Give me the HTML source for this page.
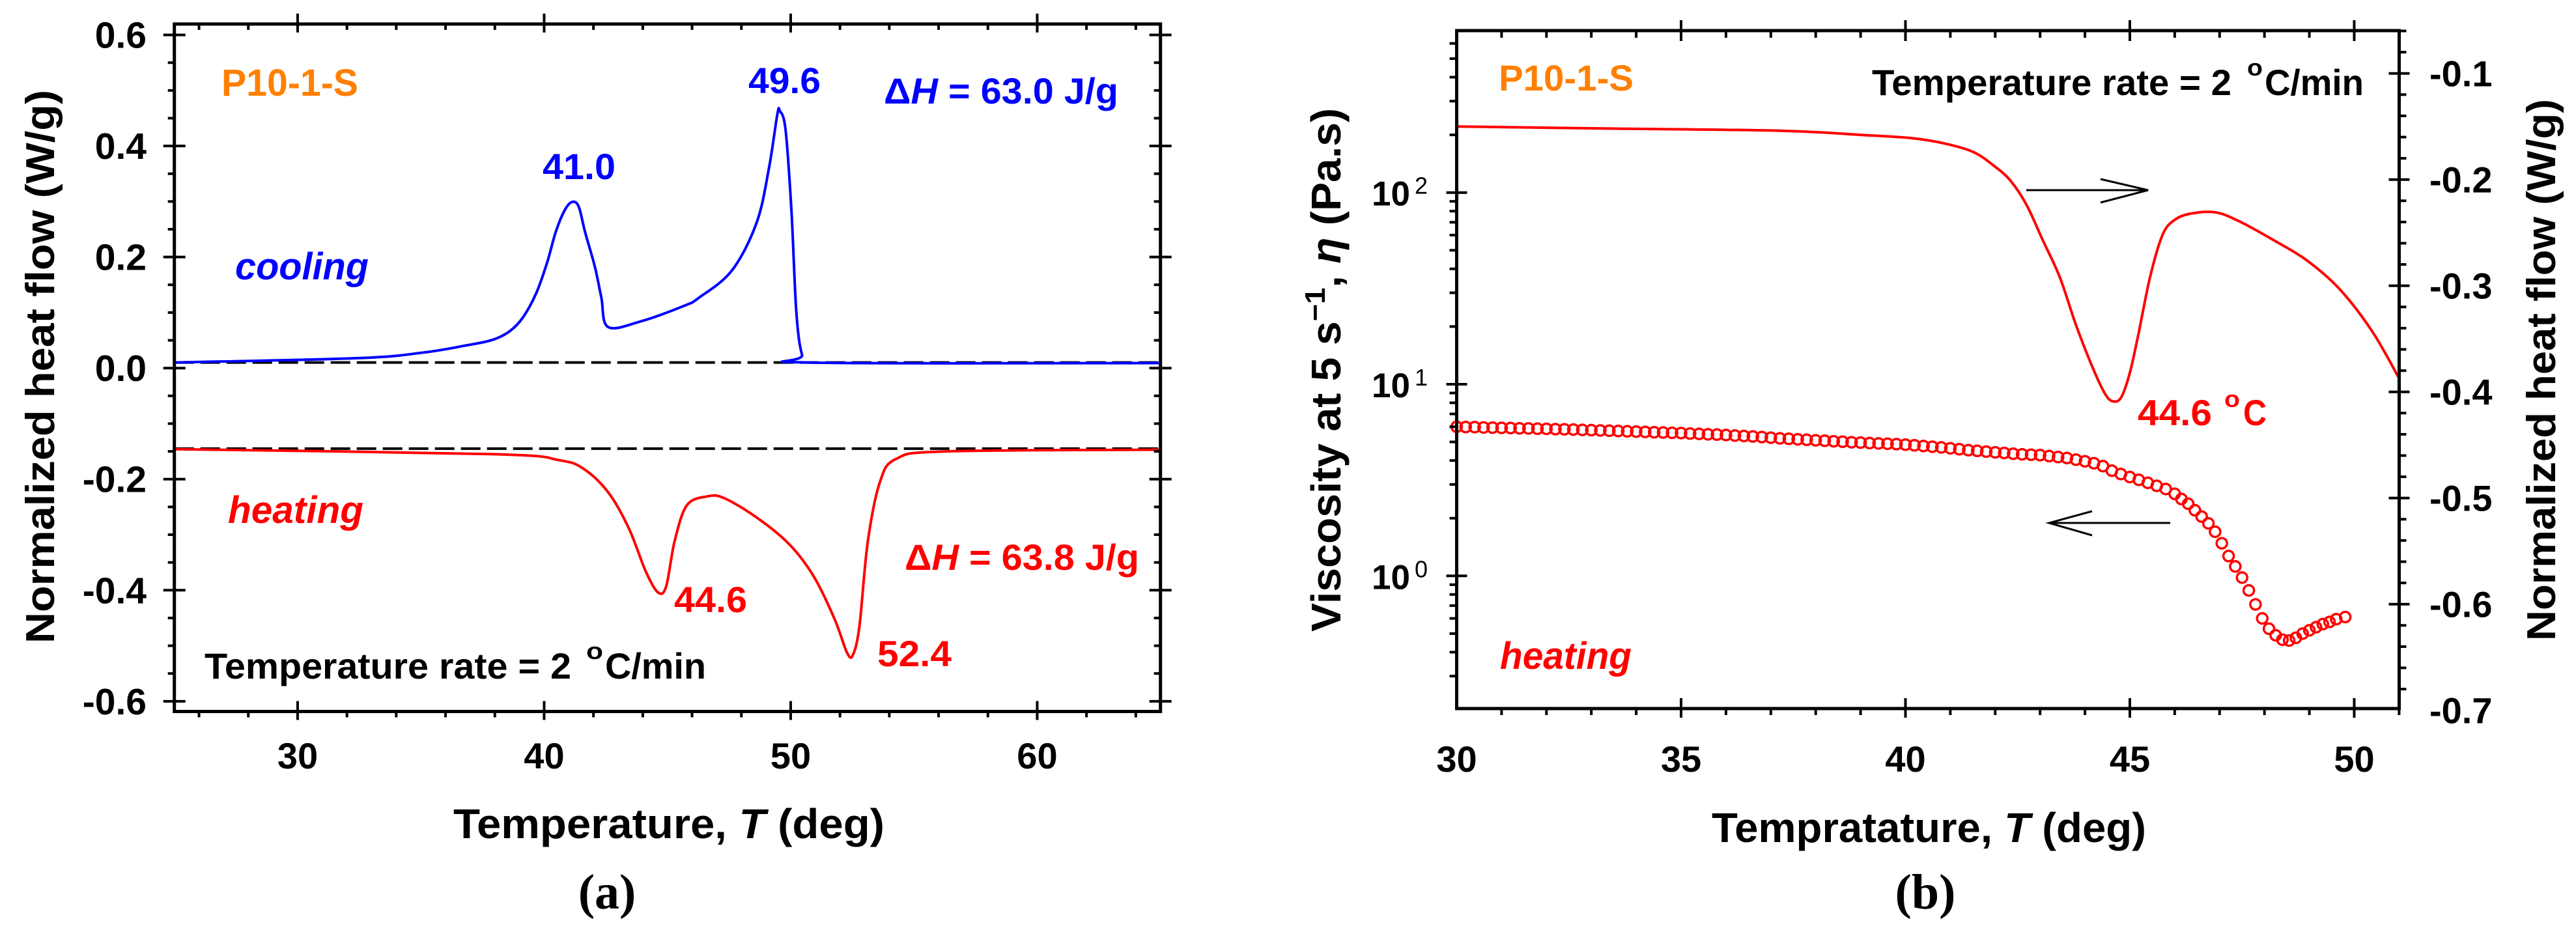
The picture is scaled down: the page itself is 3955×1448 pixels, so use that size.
<!DOCTYPE html>
<html><head><meta charset="utf-8"><style>
html,body{margin:0;padding:0;background:#fff;}
svg{display:block;font-family:"Liberation Sans",Arial,sans-serif;font-weight:bold;}
</style></head><body>
<svg id="fig" width="3955" height="1448" viewBox="0 0 3955 1448" xmlns="http://www.w3.org/2000/svg">
<rect width="3955" height="1448" fill="#fff"/>
<g id="pa"></g>
<g id="pb"></g>
<text transform="translate(83,563) rotate(-90)" text-anchor="middle" font-size="62" textLength="850" lengthAdjust="spacingAndGlyphs">Normalized heat flow (W/g)</text>
<text x="696" y="1287" font-size="64" textLength="662" lengthAdjust="spacingAndGlyphs">Temperature, <tspan font-style="italic">T</tspan> (deg)</text>
<text x="932" y="1395" text-anchor="middle" font-family="Liberation Serif, serif" font-size="76" font-weight="bold">(a)</text>
<text x="340" y="147" font-size="58" fill="#FF8000" textLength="210" lengthAdjust="spacingAndGlyphs">P10-1-S</text>
<text x="361" y="429" font-size="58" font-style="italic" fill="#0000FF" textLength="205" lengthAdjust="spacingAndGlyphs">cooling</text>
<text x="350" y="803" font-size="58" font-style="italic" fill="#FF0000" textLength="208" lengthAdjust="spacingAndGlyphs">heating</text>
<text x="833" y="275" font-size="56" fill="#0000FF" textLength="112" lengthAdjust="spacingAndGlyphs">41.0</text>
<text x="1149" y="143" font-size="56" fill="#0000FF" textLength="111" lengthAdjust="spacingAndGlyphs">49.6</text>
<text x="1357" y="159" font-size="56" fill="#0000FF" textLength="360" lengthAdjust="spacingAndGlyphs">Δ<tspan font-style="italic">H</tspan> = 63.0 J/g</text>
<text x="1389" y="875" font-size="56" fill="#FF0000" textLength="360" lengthAdjust="spacingAndGlyphs">Δ<tspan font-style="italic">H</tspan> = 63.8 J/g</text>
<text x="1035" y="940" font-size="56" fill="#FF0000" textLength="112" lengthAdjust="spacingAndGlyphs">44.6</text>
<text x="1347" y="1023" font-size="56" fill="#FF0000" textLength="114" lengthAdjust="spacingAndGlyphs">52.4</text>
<text x="314" y="1042" font-size="56" textLength="563" lengthAdjust="spacingAndGlyphs">Temperature rate = 2</text>
<text x="900" y="1012" font-size="36" textLength="26" lengthAdjust="spacingAndGlyphs">o</text>
<text x="929" y="1042" font-size="56" textLength="155" lengthAdjust="spacingAndGlyphs">C/min</text>
<text transform="translate(2058,568) rotate(-90)" text-anchor="middle" font-size="64" textLength="804" lengthAdjust="spacingAndGlyphs">Viscosity at 5 s<tspan dy="-24" font-size="44">−1</tspan><tspan dy="24">, </tspan><tspan font-style="italic">η</tspan> (Pa.s)</text>
<text transform="translate(3923,568) rotate(-90)" text-anchor="middle" font-size="62" textLength="832" lengthAdjust="spacingAndGlyphs">Normalized heat flow (W/g)</text>
<text x="2628" y="1293" font-size="64" textLength="667" lengthAdjust="spacingAndGlyphs">Tempratature, <tspan font-style="italic">T</tspan> (deg)</text>
<text x="2956" y="1395" text-anchor="middle" font-family="Liberation Serif, serif" font-size="76" font-weight="bold">(b)</text>
<text x="2301" y="139" font-size="56" fill="#FF8000" textLength="207" lengthAdjust="spacingAndGlyphs">P10-1-S</text>
<text x="2874" y="146" font-size="56" textLength="552" lengthAdjust="spacingAndGlyphs">Temperature rate = 2</text>
<text x="3450" y="116" font-size="36" textLength="24" lengthAdjust="spacingAndGlyphs">o</text>
<text x="3477" y="146" font-size="56" textLength="152" lengthAdjust="spacingAndGlyphs">C/min</text>
<text x="3282" y="653" font-size="56" fill="#FF0000" textLength="114" lengthAdjust="spacingAndGlyphs">44.6</text>
<text x="3415" y="625" font-size="36" fill="#FF0000" textLength="24" lengthAdjust="spacingAndGlyphs">o</text>
<text x="3444" y="653" font-size="56" fill="#FF0000" textLength="36" lengthAdjust="spacingAndGlyphs">C</text>
<text x="2303" y="1027" font-size="58" font-style="italic" fill="#FF0000" textLength="202" lengthAdjust="spacingAndGlyphs">heating</text>
<g stroke="#000" stroke-width="3" fill="none">
<line x1="3111" y1="292" x2="3298" y2="292"/><polyline points="3225,275 3298,292 3225,311"/></g>
<g stroke="#000" stroke-width="3" fill="none">
<line x1="3146" y1="803" x2="3332" y2="803"/><polyline points="3212,785 3146,803 3212,822"/></g>
</svg>
<script>
// ---- Panel (a) data ----
const aXTicks = [30, 40, 50, 60];
const aYTicks = [-0.6, -0.4, -0.2, 0.0, 0.2, 0.4, 0.6];
const aYTickLabels = ["-0.6", "-0.4", "-0.2", "0.0", "0.2", "0.4", "0.6"];
const coolT = [25, 32.46, 35.10, 36.86, 37.92, 38.62, 39.15, 39.68, 40.12, 40.47, 40.83, 41.13, 41.40, 41.66, 42.06, 42.32, 42.59, 43.91, 45.67, 46.29, 47.62, 48.62, 49.12, 49.46, 49.56, 49.79, 50.03, 50.23, 50.46, 50.79, 65];
const coolQ = [0.010, 0.018, 0.028, 0.041, 0.051, 0.067, 0.092, 0.135, 0.190, 0.245, 0.284, 0.299, 0.291, 0.245, 0.182, 0.127, 0.074, 0.084, 0.112, 0.127, 0.176, 0.262, 0.360, 0.457, 0.463, 0.430, 0.284, 0.100, 0.024, 0.010, 0.009];
const heatT = [25, 37.95, 40.62, 41.62, 42.62, 43.45, 44.12, 44.62, 44.95, 45.29, 45.79, 46.62, 47.29, 48.62, 49.96, 50.96, 51.79, 52.29, 52.53, 52.79, 53.13, 53.63, 54.30, 56.30, 65];
const heatQ = [-0.146, -0.155, -0.166, -0.182, -0.225, -0.290, -0.366, -0.404, -0.393, -0.312, -0.247, -0.231, -0.234, -0.269, -0.318, -0.377, -0.453, -0.513, -0.516, -0.464, -0.312, -0.204, -0.163, -0.150, -0.147];
const coolBaseline = [0.010];
const heatBaseline = [-0.145];
// ---- Panel (b) data ----
const bXTicks = [30, 35, 40, 45, 50];
const bLeftExp = [0, 1, 2];
const bRightTicks = [-0.7, -0.6, -0.5, -0.4, -0.3, -0.2, -0.1];
const bRightTickLabels = ["-0.7", "-0.6", "-0.5", "-0.4", "-0.3", "-0.2", "-0.1"];
const dscT = [30.00, 33.54, 37.20, 39.04, 40.14, 40.87, 41.51, 41.97, 42.34, 42.70, 43.07, 43.44, 43.80, 44.17, 44.45, 44.63, 44.81, 45.00, 45.18, 45.45, 45.73, 46.00, 46.37, 46.92, 47.47, 48.20, 48.94, 49.67, 50.40, 51.01];
const dscQ = [-0.150, -0.152, -0.154, -0.158, -0.161, -0.166, -0.174, -0.187, -0.201, -0.224, -0.258, -0.292, -0.337, -0.377, -0.402, -0.409, -0.405, -0.382, -0.348, -0.292, -0.252, -0.238, -0.232, -0.231, -0.240, -0.257, -0.276, -0.303, -0.343, -0.388];
const viscT = [30.0,30.2,30.4,30.6,30.8,31.0,31.2,31.4,31.6,31.8,32.0,32.2,32.4,32.6,32.8,33.0,33.2,33.4,33.6,33.8,34.0,34.2,34.4,34.6,34.8,35.0,35.2,35.4,35.6,35.8,36.0,36.2,36.4,36.6,36.8,37.0,37.2,37.4,37.6,37.8,38.0,38.2,38.4,38.6,38.8,39.0,39.2,39.4,39.6,39.8,40.0,40.2,40.4,40.6,40.8,41.0,41.2,41.4,41.6,41.8,42.0,42.2,42.4,42.6,42.8,43.0,43.2,43.4,43.6,43.8,44.0,44.2,44.4,44.6,44.8,45.0,45.2,45.4,45.6,45.8,46.0,46.15,46.3,46.45,46.6,46.75,46.9,47.05,47.2,47.35,47.5,47.65,47.8,47.95,48.1,48.25,48.4,48.55,48.7,48.85,49.0,49.15,49.3,49.45,49.6,49.8];
const viscEta = [6.00,5.98,5.97,5.95,5.94,5.92,5.91,5.89,5.88,5.86,5.85,5.83,5.82,5.80,5.78,5.76,5.74,5.72,5.70,5.68,5.66,5.64,5.62,5.60,5.58,5.56,5.53,5.51,5.48,5.46,5.43,5.40,5.37,5.34,5.30,5.26,5.22,5.19,5.16,5.13,5.10,5.07,5.04,5.01,4.98,4.96,4.93,4.91,4.89,4.87,4.84,4.80,4.76,4.72,4.68,4.63,4.58,4.53,4.49,4.45,4.41,4.38,4.34,4.31,4.29,4.27,4.22,4.17,4.12,4.04,3.96,3.87,3.74,3.54,3.40,3.28,3.17,3.06,2.95,2.84,2.68,2.52,2.38,2.20,2.04,1.88,1.70,1.48,1.27,1.12,0.98,0.84,0.71,0.60,0.53,0.49,0.465,0.46,0.475,0.50,0.52,0.54,0.56,0.575,0.595,0.61];

const NS = "http://www.w3.org/2000/svg";
function mk(tag, parent, attrs) {
  const e = document.createElementNS(NS, tag);
  for (const k in attrs) e.setAttribute(k, attrs[k]);
  parent.appendChild(e);
  return e;
}
const pa = document.getElementById('pa');
const pb = document.getElementById('pb');

const aL = 267.7, aR = 1781.7, aT = 36.9, aB = 1092.5;
function xA(t) { return aL + (t - 25) * 37.85; }
function yA(v) { return 565.2 - v * 852.7; }
const bL = 2236.5, bR = 3683.5, bT = 47, bB = 1088;
function xB(t) { return bL + (t - 30) * 68.9; }
function yL(v) { return 295.7 - (Math.log10(v) - 2) * 294.3; }
function yR(h) { return 112.7 + (-0.1 - h) * 1630; }

// smooth (Catmull-Rom) path through data points
function path(parent, xs, ys, fx, fy, color, name) {
  const P = xs.map(function (x, i) { return [fx(x), fy(ys[i])]; });
  let d = 'M' + P[0][0].toFixed(1) + ',' + P[0][1].toFixed(1);
  for (let i = 0; i < P.length - 1; i++) {
    const p0 = P[Math.max(0, i - 1)], p1 = P[i], p2 = P[i + 1], p3 = P[Math.min(P.length - 1, i + 2)];
    const c1x = p1[0] + (p2[0] - p0[0]) / 6, c1y = p1[1] + (p2[1] - p0[1]) / 6;
    const c2x = p2[0] - (p3[0] - p1[0]) / 6, c2y = p2[1] - (p3[1] - p1[1]) / 6;
    d += 'C' + c1x.toFixed(1) + ',' + c1y.toFixed(1) + ' ' + c2x.toFixed(1) + ',' + c2y.toFixed(1) + ' ' + p2[0].toFixed(1) + ',' + p2[1].toFixed(1);
  }
  const p = mk('path', parent, {d: d, fill: 'none', stroke: color, 'stroke-width': 4, 'stroke-linejoin': 'round'});
  
  
  return p;
}
let bl1 = mk('line', pa, {x1: aL, x2: aR, y1: yA(coolBaseline[0]), y2: yA(coolBaseline[0]), stroke: '#000', 'stroke-width': 4, 'stroke-dasharray': '30 10'});


let bl2 = mk('line', pa, {x1: aL, x2: aR, y1: yA(heatBaseline[0]), y2: yA(heatBaseline[0]), stroke: '#000', 'stroke-width': 4, 'stroke-dasharray': '30 10'});


path(pa, coolT, coolQ, xA, yA, '#0000FF', 'cooling-curve');
path(pa, heatT, heatQ, xA, yA, '#FF0000', 'heating-curve');

let fa = mk('rect', pa, {x: aL, y: aT, width: aR - aL, height: aB - aT, fill: 'none', stroke: '#000', 'stroke-width': 5});


const ga = mk('g', pa, {stroke: '#000', 'stroke-width': 4});


for (let t = 26; t <= 64; t += 2) {
  const x = xA(t);
  if (t % 10 === 0) {
    mk('line', ga, {x1: x, x2: x, y1: aB - 16, y2: aB + 13});
    mk('line', ga, {x1: x, x2: x, y1: aT - 16, y2: aT + 13});
  } else {
    mk('line', ga, {x1: x, x2: x, y1: aB, y2: aB + 9});
    mk('line', ga, {x1: x, x2: x, y1: aT, y2: aT + 9});
  }
}
for (let k = -12; k <= 12; k++) {
  const v = k * 0.05, y = yA(v);
  if (k % 4 === 0) {
    mk('line', ga, {x1: aL - 17, x2: aL + 17, y1: y, y2: y});
    mk('line', ga, {x1: aR - 17, x2: aR + 17, y1: y, y2: y});
  } else {
    mk('line', ga, {x1: aL - 10, x2: aL, y1: y, y2: y});
    mk('line', ga, {x1: aR - 10, x2: aR, y1: y, y2: y});
  }
}
aXTicks.forEach(function (t) {
  const tx = mk('text', pa, {x: xA(t), y: 1180, 'text-anchor': 'middle', 'font-size': 56});
  tx.textContent = String(t);
  
  
});
aYTicks.forEach(function (v, i) {
  const tx = mk('text', pa, {x: 225, y: yA(v) + 20, 'text-anchor': 'end', 'font-size': 57});
  tx.textContent = aYTickLabels[i];
  
  
});

// ---------- Panel b ----------
path(pb, dscT, dscQ, xB, yR, '#FF0000', 'heat-flow-curve');
const gc = mk('g', pb, {fill: 'none', stroke: '#FF0000', 'stroke-width': 3.5});


viscT.forEach(function (t, i) {
  const c = mk('circle', gc, {cx: xB(t).toFixed(1), cy: yL(viscEta[i]).toFixed(1), r: 8});
  
  
});
let fb = mk('rect', pb, {x: bL, y: bT, width: bR - bL, height: bB - bT, fill: 'none', stroke: '#000', 'stroke-width': 5});


const gb = mk('g', pb, {stroke: '#000', 'stroke-width': 4});


for (let t = 31; t <= 51; t++) {
  const x = xB(t);
  if (t % 5 === 0) {
    mk('line', gb, {x1: x, x2: x, y1: bB - 16, y2: bB + 14});
    mk('line', gb, {x1: x, x2: x, y1: bT - 16, y2: bT + 16});
  } else {
    mk('line', gb, {x1: x, x2: x, y1: bB, y2: bB + 10});
    mk('line', gb, {x1: x, x2: x, y1: bT, y2: bT + 11});
  }
}
for (let e = -1; e <= 2; e++) {
  for (let m = 1; m <= 9; m++) {
    const v = m * Math.pow(10, e);
    const y = yL(v);
    if (y < bT || y > bB) continue;
    if (m === 1) mk('line', gb, {x1: bL - 16, x2: bL + 16, y1: y, y2: y});
    else mk('line', gb, {x1: bL - 11, x2: bL, y1: y, y2: y});
  }
}
for (let k = 35; k >= 3; k--) {
  const h = -k * 0.02; const y = yR(h);
  if (y < bT || y > bB + 1) continue;
  if (k % 5 === 0) mk('line', gb, {x1: bR - 16, x2: bR + 16, y1: y, y2: y});
  else mk('line', gb, {x1: bR, x2: bR + 11, y1: y, y2: y});
}
bXTicks.forEach(function (t) {
  const tx = mk('text', pb, {x: xB(t), y: 1185, 'text-anchor': 'middle', 'font-size': 56});
  tx.textContent = String(t);
  
  
});
bLeftExp.forEach(function (e) {
  const y = yL(Math.pow(10, e));
  const tx = mk('text', pb, {x: 2165, y: y + 20, 'text-anchor': 'end', 'font-size': 53});
  tx.textContent = '10';
  
  
  const sx = mk('text', pb, {x: 2172, y: y + 2, 'font-size': 36, 'font-weight': 'normal'});
  sx.textContent = String(e);
  
  
});
bRightTicks.forEach(function (h, i) {
  const tx = mk('text', pb, {x: 3730, y: yR(h) + 20, 'font-size': 56});
  tx.textContent = bRightTickLabels[i];
  
  
});
</script>
</body></html>
